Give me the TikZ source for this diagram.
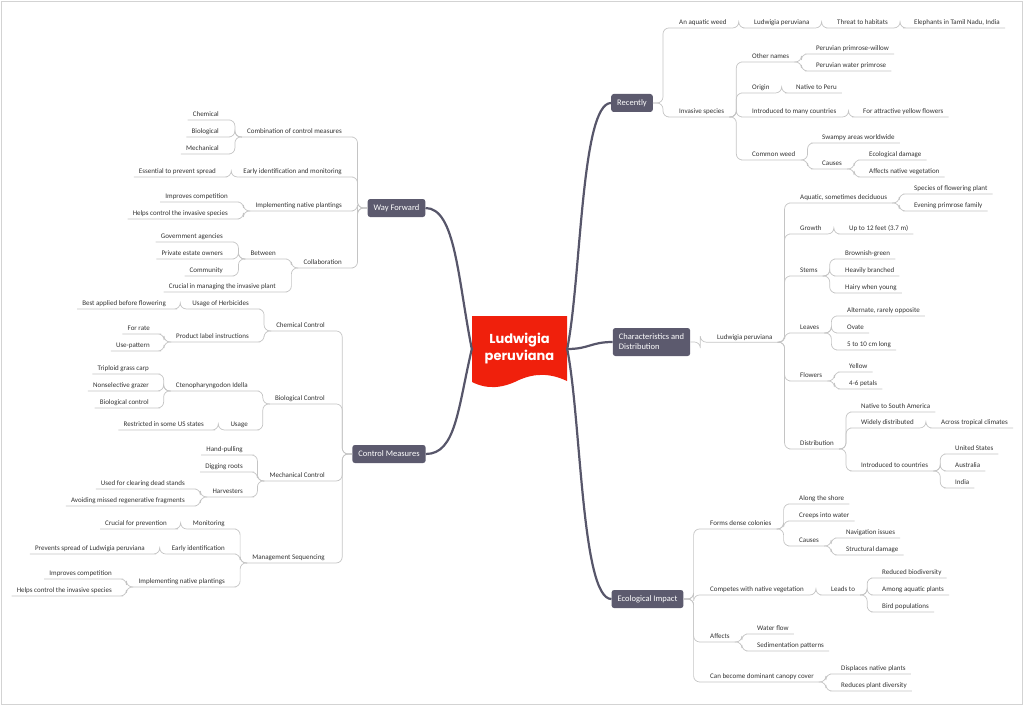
\documentclass[tikz,border=0pt]{standalone}
\usepackage{fontspec}
\setmainfont{Carlito}
\newfontfamily\titlefont{Poppins}
\definecolor{leaftext}{HTML}{333333}
\definecolor{linkgray}{HTML}{C4C4C4}
\definecolor{branchfill}{HTML}{5C5A6E}
\definecolor{trunkgray}{HTML}{57566A}
\definecolor{rootred}{HTML}{F0200C}
\definecolor{framegray}{HTML}{D3D3D3}

\begin{document}
\begin{tikzpicture}
  [x=1pt, y=-1pt,
   topic/.style={inner xsep=5pt, inner ysep=1.5pt, text height=5pt, text depth=1.5pt,
                 font=\fontsize{7}{8}\selectfont, text=leaftext},
   rtopic/.style={topic, anchor=west},
   ltopic/.style={topic, anchor=east},
   branch/.style={fill=branchfill, rounded corners=2.5pt, text=white, inner xsep=6pt,
                  minimum height=18pt, font=\fontsize{8.5}{10}\selectfont},
   rootnode/.style={minimum width=95pt, minimum height=66pt, text=white, align=center,
                    font=\titlefont\bfseries\fontsize{13}{17}\selectfont},
   link/.style={draw=linkgray, line width=0.7pt, rounded corners=6pt},
   trunk/.style={draw=trunkgray, line width=2.2pt}]

  \useasboundingbox (0,0) rectangle (1024,706);
  \draw[framegray, line width=1.5pt] (1.5,1.5) rectangle (1022.5,704.5);

  % central topic
  \fill[rootred] (472,316) -- (567,316) -- (567,381)
    .. controls (550,373) and (535,373) .. (519,380)
    .. controls (503,388) and (488,390) .. (472,382) -- cycle;
  \node[rootnode] (root) at (519.5,349) {Ludwigia\\peruviana};

  % main branches
  \node[branch] (rec) at (632,103) {Recently};
  \node[branch, align=left, minimum height=28pt] (chr) at (651.5,342) {Characteristics and\\Distribution};
  \node[branch] (eco) at (647.5,599) {Ecological Impact};
  \node[branch] (wf) at (396.5,208) {Way Forward};
  \node[branch] (cm) at (389,454) {Control Measures};

  \draw[trunk] (root.east) .. controls +(14,-70) and +(-30,0) .. (rec.west);
  \draw[trunk] (root.east) .. controls +(22,0) and +(-22,0) .. (chr.west);
  \draw[trunk] (root.east) .. controls +(14,70) and +(-30,0) .. (eco.west);
  \draw[trunk] (root.west) .. controls +(-14,-70) and +(30,0) .. (wf.east);
  \draw[trunk] (root.west) .. controls +(-14,60) and +(30,0) .. (cm.east);

  % Recently
  \node[rtopic] (rec1) at (674,23) {An aquatic weed};
  \node[rtopic] (rec1a) at (749,23) {Ludwigia peruviana};
  \node[rtopic] (rec1b) at (832,23) {Threat to habitats};
  \node[rtopic] (rec1c) at (909,23) {Elephants in Tamil Nadu, India};
  \node[rtopic] (rec2) at (674,112) {Invasive species};
  \node[rtopic] (rec2a) at (747,57) {Other names};
  \node[rtopic] (rec2a1) at (811,49) {Peruvian primrose-willow};
  \node[rtopic] (rec2a2) at (811,66) {Peruvian water primrose};
  \node[rtopic] (rec2b) at (747,88) {Origin};
  \node[rtopic] (rec2b1) at (791,88) {Native to Peru};
  \node[rtopic] (rec2c) at (747,112) {Introduced to many countries};
  \node[rtopic] (rec2c1) at (858,112) {For attractive yellow flowers};
  \node[rtopic] (rec2d) at (747,155) {Common weed};
  \node[rtopic] (rec2d1) at (817,138) {Swampy areas worldwide};
  \node[rtopic] (rec2d2) at (817,164) {Causes};
  \node[rtopic] (rec2d2a) at (864,155) {Ecological damage};
  \node[rtopic] (rec2d2b) at (864,172) {Affects native vegetation};

  % Characteristics and Distribution
  \node[rtopic] (chr1) at (712,337.25) {Ludwigia peruviana};
  \node[rtopic] (chr1a) at (795,198) {Aquatic, sometimes deciduous};
  \node[rtopic] (chr1a1) at (909,189) {Species of flowering plant};
  \node[rtopic] (chr1a2) at (909,206) {Evening primrose family};
  \node[rtopic] (chr1b) at (795,229) {Growth};
  \node[rtopic] (chr1b1) at (844,229) {Up to 12 feet (3.7 m)};
  \node[rtopic] (chr1c) at (795,271) {Stems};
  \node[rtopic] (chr1c1) at (840,254) {Brownish-green};
  \node[rtopic] (chr1c2) at (840,271) {Heavily branched};
  \node[rtopic] (chr1c3) at (840,288) {Hairy when young};
  \node[rtopic] (chr1d) at (795,328) {Leaves};
  \node[rtopic] (chr1d1) at (842,311) {Alternate, rarely opposite};
  \node[rtopic] (chr1d2) at (842,328) {Ovate};
  \node[rtopic] (chr1d3) at (842,345) {5 to 10 cm long};
  \node[rtopic] (chr1e) at (795,376) {Flowers};
  \node[rtopic] (chr1e1) at (844,367) {Yellow};
  \node[rtopic] (chr1e2) at (844,384) {4-6 petals};
  \node[rtopic] (chr1f) at (795,444) {Distribution};
  \node[rtopic] (chr1f1) at (856,407) {Native to South America};
  \node[rtopic] (chr1f2) at (856,423) {Widely distributed};
  \node[rtopic] (chr1f2a) at (936,423) {Across tropical climates};
  \node[rtopic] (chr1f3) at (856,466) {Introduced to countries};
  \node[rtopic] (chr1f3a) at (950,449) {United States};
  \node[rtopic] (chr1f3b) at (950,466) {Australia};
  \node[rtopic] (chr1f3c) at (950,483) {India};

  % Ecological Impact
  \node[rtopic] (eco1) at (705,524) {Forms dense colonies};
  \node[rtopic] (eco1a) at (794,499) {Along the shore};
  \node[rtopic] (eco1b) at (794,516) {Creeps into water};
  \node[rtopic] (eco1c) at (794,541) {Causes};
  \node[rtopic] (eco1c1) at (841,533) {Navigation issues};
  \node[rtopic] (eco1c2) at (841,550) {Structural damage};
  \node[rtopic] (eco2) at (705,590) {Competes with native vegetation};
  \node[rtopic] (eco2a) at (826,590) {Leads to};
  \node[rtopic] (eco2a1) at (877,573) {Reduced biodiversity};
  \node[rtopic] (eco2a2) at (877,590) {Among aquatic plants};
  \node[rtopic] (eco2a3) at (877,607) {Bird populations};
  \node[rtopic] (eco3) at (705,637) {Affects};
  \node[rtopic] (eco3a) at (752,629) {Water flow};
  \node[rtopic] (eco3b) at (752,646) {Sedimentation patterns};
  \node[rtopic] (eco4) at (705,677) {Can become dominant canopy cover};
  \node[rtopic] (eco4a) at (836,669) {Displaces native plants};
  \node[rtopic] (eco4b) at (836,686) {Reduces plant diversity};

  % Way Forward
  \node[ltopic] (wf1) at (347,132) {Combination of control measures};
  \node[ltopic] (wf1a) at (224,115) {Chemical};
  \node[ltopic] (wf1b) at (224,132) {Biological};
  \node[ltopic] (wf1c) at (224,149) {Mechanical};
  \node[ltopic] (wf2) at (347,172) {Early identification and monitoring};
  \node[ltopic] (wf2a) at (221,172) {Essential to prevent spread};
  \node[ltopic] (wf3) at (347,206) {Implementing native plantings};
  \node[ltopic] (wf3a) at (233,197) {Improves competition};
  \node[ltopic] (wf3b) at (233,214) {Helps control the invasive species};
  \node[ltopic] (wf4) at (347,263) {Collaboration};
  \node[ltopic] (wf4a) at (281,254) {Between};
  \node[ltopic] (wf4a1) at (228,237) {Government agencies};
  \node[ltopic] (wf4a2) at (228,254) {Private estate owners};
  \node[ltopic] (wf4a3) at (228,271) {Community};
  \node[ltopic] (wf4b) at (281,287) {Crucial in managing the invasive plant};

  % Control Measures
  \node[ltopic] (cm1) at (330,326) {Chemical Control};
  \node[ltopic] (cm1a) at (254,304) {Usage of Herbicides};
  \node[ltopic] (cm1a1) at (171,304) {Best applied before flowering};
  \node[ltopic] (cm1b) at (254,337) {Product label instructions};
  \node[ltopic] (cm1b1) at (155,329) {For rate};
  \node[ltopic] (cm1b2) at (155,346) {Use-pattern};
  \node[ltopic] (cm2) at (330,399) {Biological Control};
  \node[ltopic] (cm2a) at (253,386) {Ctenopharyngodon Idella};
  \node[ltopic] (cm2a1) at (154,369) {Triploid grass carp};
  \node[ltopic] (cm2a2) at (154,386) {Nonselective grazer};
  \node[ltopic] (cm2a3) at (154,403) {Biological control};
  \node[ltopic] (cm2b) at (253,425) {Usage};
  \node[ltopic] (cm2b1) at (209,425) {Restricted in some US states};
  \node[ltopic] (cm3) at (330,476) {Mechanical Control};
  \node[ltopic] (cm3a) at (248,450) {Hand-pulling};
  \node[ltopic] (cm3b) at (248,467) {Digging roots};
  \node[ltopic] (cm3c) at (248,492) {Harvesters};
  \node[ltopic] (cm3c1) at (190,484) {Used for clearing dead stands};
  \node[ltopic] (cm3c2) at (190,501) {Avoiding missed regenerative fragments};
  \node[ltopic] (cm4) at (330,558) {Management Sequencing};
  \node[ltopic] (cm4a) at (230,524) {Monitoring};
  \node[ltopic] (cm4a1) at (172,524) {Crucial for prevention};
  \node[ltopic] (cm4b) at (230,549) {Early identification};
  \node[ltopic] (cm4b1) at (150,549) {Prevents spread of Ludwigia peruviana};
  \node[ltopic] (cm4c) at (230,582) {Implementing native plantings};
  \node[ltopic] (cm4c1) at (117,574) {Improves competition};
  \node[ltopic] (cm4c2) at (117,591) {Helps control the invasive species};

  % branch -> first level
  \foreach \from/\to in {rec/rec1, rec/rec2, chr/chr1, eco/eco1, eco/eco2, eco/eco3, eco/eco4}
    \draw[link] (\from.east) -- ++(10,0) |- (\to.south west) -- (\to.south east);
  \foreach \from/\to in {wf/wf1, wf/wf2, wf/wf3, wf/wf4, cm/cm1, cm/cm2, cm/cm3, cm/cm4}
    \draw[link] (\from.west) -- ++(-10,0) |- (\to.south east) -- (\to.south west);

  % right side sub-topics
  \foreach \from/\to in {rec1/rec1a, rec1a/rec1b, rec1b/rec1c,
      rec2/rec2a, rec2/rec2b, rec2/rec2c, rec2/rec2d, rec2a/rec2a1, rec2a/rec2a2,
      rec2b/rec2b1, rec2c/rec2c1, rec2d/rec2d1, rec2d/rec2d2, rec2d2/rec2d2a, rec2d2/rec2d2b,
      chr1/chr1a, chr1/chr1b, chr1/chr1c, chr1/chr1d, chr1/chr1e, chr1/chr1f,
      chr1a/chr1a1, chr1a/chr1a2, chr1b/chr1b1, chr1c/chr1c1, chr1c/chr1c2, chr1c/chr1c3,
      chr1d/chr1d1, chr1d/chr1d2, chr1d/chr1d3, chr1e/chr1e1, chr1e/chr1e2,
      chr1f/chr1f1, chr1f/chr1f2, chr1f/chr1f3, chr1f2/chr1f2a,
      chr1f3/chr1f3a, chr1f3/chr1f3b, chr1f3/chr1f3c,
      eco1/eco1a, eco1/eco1b, eco1/eco1c, eco1c/eco1c1, eco1c/eco1c2,
      eco2/eco2a, eco2a/eco2a1, eco2a/eco2a2, eco2a/eco2a3,
      eco3/eco3a, eco3/eco3b, eco4/eco4a, eco4/eco4b}
    \draw[link] (\from.south east) -- ++(7,0) |- (\to.south west) -- (\to.south east);

  % left side sub-topics
  \foreach \from/\to in {wf1/wf1a, wf1/wf1b, wf1/wf1c, wf2/wf2a, wf3/wf3a, wf3/wf3b,
      wf4/wf4a, wf4/wf4b, wf4a/wf4a1, wf4a/wf4a2, wf4a/wf4a3,
      cm1/cm1a, cm1/cm1b, cm1a/cm1a1, cm1b/cm1b1, cm1b/cm1b2,
      cm2/cm2a, cm2/cm2b, cm2a/cm2a1, cm2a/cm2a2, cm2a/cm2a3, cm2b/cm2b1,
      cm3/cm3a, cm3/cm3b, cm3/cm3c, cm3c/cm3c1, cm3c/cm3c2,
      cm4/cm4a, cm4/cm4b, cm4/cm4c, cm4a/cm4a1, cm4b/cm4b1, cm4c/cm4c1, cm4c/cm4c2}
    \draw[link] (\from.south west) -- ++(-7,0) |- (\to.south east) -- (\to.south west);
\end{tikzpicture}
\end{document}
